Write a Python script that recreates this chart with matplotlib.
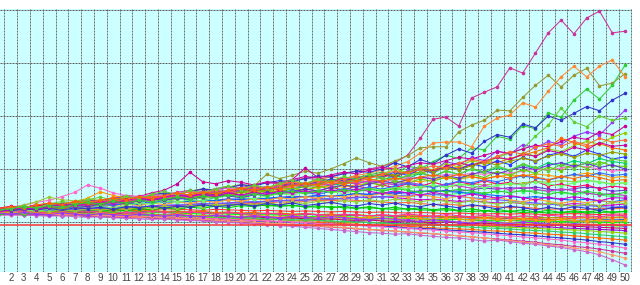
import matplotlib
matplotlib.use("Agg")
import matplotlib.pyplot as plt
import numpy as np

x_values = list(range(1, 51))
tick_labels = [str(i) for i in range(2, 51)]

s01 = [122,125,128,126,131,135,133,138,142,140, 145,149,147,152,156,160,158,163,167,165,
       170,174,172,178,183,180,186,192,196,200, 205,212,226,258,294,298,281,334,345,355,
       391,381,419,457,481,455,485,498,457,460]
s02 = [120,123,121,126,130,128,134,139,136,141, 146,143,150,154,152,158,163,160,166,171,
       168,190,182,188,196,192,200,210,221,212, 205,215,225,240,242,242,270,283,292,311,
       310,335,358,377,355,377,390,357,362,380]
s03 = [117,120,124,122,127,131,129,133,137,135, 139,143,141,146,150,148,153,157,155,160,
       164,162,168,172,170,176,181,178,184,189, 194,188,206,200,214,226,220,240,236,262,
       256,282,276,306,298,330,351,332,358,396]
s04 = [118,121,124,122,127,131,129,134,138,136, 140,144,141,147,151,149,155,159,157,163,
       167,165,171,176,173,180,185,182,188,192, 198,205,214,230,249,251,251,242,281,296,
       302,325,317,347,374,394,374,394,406,374]
s05 = [124,127,125,130,134,132,137,141,139,144, 148,146,151,155,153,158,162,160,165,170,
       168,174,178,176,182,187,185,191,196,194, 200,212,204,218,210,226,238,230,252,265,
       260,285,278,300,292,305,318,310,330,343]
s06 = [121,119,123,127,125,129,133,131,135,139, 137,142,146,144,148,153,151,156,160,158,
       163,167,165,170,174,172,178,183,181,186, 191,183,197,205,196,214,208,222,216,234,
       228,246,240,252,246,262,270,264,288,311]
s07 = [116,119,118,122,120,125,128,126,131,134, 132,137,140,138,143,146,144,149,153,151,
       156,159,157,163,167,165,170,174,172,178, 183,181,187,192,198,203,200,208,214,222,
       230,238,262,283,315,289,280,300,292,296]
s08 = [125,128,126,131,135,133,138,142,140,146, 150,148,155,160,172,194,176,172,178,175,
       170,176,174,180,186,183,189,194,191,198, 203,200,206,212,209,216,222,219,226,233,
       230,238,245,242,252,260,256,270,265,281]
s09 = [118,121,120,124,128,126,131,135,133,138, 142,140,145,149,147,152,156,154,159,163,
       161,166,170,168,173,178,176,182,186,184, 190,200,193,205,198,210,204,216,210,222,
       217,230,225,238,233,244,252,247,260,268]
s10 = [120,123,127,125,130,128,133,137,135,140, 138,143,147,145,150,148,153,157,155,160,
       164,162,167,171,169,174,178,176,181,186, 184,190,195,193,199,204,202,208,214,212,
       220,226,233,240,258,250,242,248,240,236]
s11 = [123,121,125,129,127,132,136,134,138,142, 140,145,149,147,152,150,155,159,157,162,
       166,164,169,173,171,176,180,178,183,187, 185,194,188,200,192,206,199,210,204,216,
       208,222,214,226,232,224,236,228,219,223]
s12 = [119,122,126,124,129,127,131,135,133,137, 141,139,143,147,145,149,153,151,155,159,
       157,161,165,163,167,171,169,173,177,175, 179,188,182,192,186,196,190,200,193,203,
       197,208,201,212,206,216,210,220,214,211]
s13 = [124,128,132,137,141,148,156,170,164,155, 150,147,152,149,154,158,155,160,164,161,
       159,163,167,165,169,167,172,176,174,178, 176,180,184,182,186,190,188,192,190,194,
       192,196,200,198,202,206,204,200,196,198]
s14 = [117,120,123,127,131,134,138,145,157,150, 146,143,147,145,149,152,150,154,157,155,
       158,156,160,163,161,165,168,166,170,173, 171,175,178,176,180,183,181,185,182,186,
       189,187,191,188,185,189,192,190,184,186]
s15 = [121,126,132,138,147,142,140,143,141,139, 142,140,143,146,144,147,145,148,151,149,
       152,150,153,156,154,157,160,158,161,163, 161,164,167,165,168,166,169,172,170,173,
       171,174,177,175,178,176,179,176,172,174]
s16 = [119,122,120,124,127,125,128,131,129,132, 135,133,136,139,137,140,138,141,144,142,
       145,143,146,149,147,150,148,151,154,152, 155,153,156,159,157,160,158,161,164,162,
       165,163,166,162,160,163,166,164,158,160]
s17 = [114,117,116,119,122,120,123,126,124,127, 129,127,130,132,130,133,135,133,136,138,
       136,139,141,139,142,144,142,145,147,145, 148,150,148,151,153,151,154,156,154,157,
       159,157,160,158,155,152,154,151,148,150]
s18 = [122,124,123,126,128,127,129,131,130,133, 135,134,136,138,137,139,141,140,142,144,
       143,145,147,146,148,150,149,151,153,152, 154,156,155,157,159,158,156,154,152,150,
       148,146,148,145,143,141,143,140,138,142]
s19 = [118,120,119,121,123,122,124,126,125,127, 129,128,130,132,131,133,135,134,136,138,
       137,139,141,140,142,144,143,145,147,146, 148,146,144,142,143,141,139,140,138,136,
       137,135,133,134,132,135,133,131,132,134]
s20 = [115,117,116,118,120,119,121,123,122,124, 126,125,127,129,128,130,132,131,133,135,
       134,136,138,137,139,141,140,142,141,139, 138,136,137,135,133,134,132,130,131,129,
       127,128,126,124,125,123,124,126,125,126]
s21 = [120,121,120,122,123,122,124,125,124,126, 127,126,128,129,128,130,131,130,132,133,
       132,131,130,131,129,128,129,127,126,127, 125,124,125,123,122,123,121,120,121,119,
       120,118,119,117,118,119,117,118,119,120]
s22 = [123,122,124,123,122,124,123,125,124,123, 125,124,123,125,124,123,122,124,123,122,
       121,122,121,120,121,120,119,120,119,118, 119,118,117,118,117,116,117,116,115,116,
       115,116,115,114,115,116,115,114,115,115]
s23 = [117,118,117,119,118,117,119,118,120,119, 118,120,119,118,117,118,117,116,117,116,
       115,116,115,114,115,114,113,114,113,112, 113,112,111,112,111,110,111,110,109,110,
       109,110,109,108,109,110,109,110,109,110]
s24 = [125,124,126,125,124,123,124,122,123,121, 122,120,121,119,120,118,119,117,118,116,
       117,115,116,114,115,113,114,112,113,111, 112,110,111,109,110,108,109,107,108,106,
       107,105,106,104,105,103,104,105,104,105]
s25 = [113,114,113,115,114,113,115,114,113,114, 113,112,113,112,111,112,111,110,111,110,
       109,110,109,108,109,108,107,108,107,106, 107,106,105,106,105,104,105,104,103,104,
       103,102,103,102,101,102,101,100,101,100]
s26 = [119,118,119,117,118,116,117,115,116,114, 115,113,114,112,113,111,112,110,111,109,
       110,108,109,107,108,106,107,105,106,104, 104,103,103,102,101,101,100,100,99,99,
       98,98,97,97,97,96,96,96,96,96]
s27 = [116,117,116,115,116,115,114,115,114,113, 114,113,112,113,112,111,110,111,110,109,
       108,109,108,107,106,107,106,105,104,103, 104,103,102,101,100,101,99,98,99,97,
       96,97,95,96,94,95,93,94,92,92]
s28 = [121,120,121,119,120,118,117,118,116,117, 115,116,114,113,114,112,111,112,110,109,
       110,108,107,108,106,105,106,104,103,104, 102,101,102,100,99,100,98,97,98,96,
       95,96,94,93,94,92,91,90,89,88]
s29 = [114,115,114,113,114,112,113,111,112,110, 111,109,110,108,109,107,108,106,107,105,
       106,104,105,103,102,103,101,100,101,99, 98,99,97,96,97,95,94,95,93,92,
       93,91,90,91,89,88,87,86,85,84]
s30 = [118,117,118,116,117,115,116,114,115,113, 112,113,111,110,111,109,108,109,107,106,
       105,106,104,103,102,103,101,100,99,100, 98,97,96,97,95,94,93,94,92,91,
       90,89,88,87,86,85,84,82,81,79]
s31 = [120,119,120,118,119,117,116,117,115,114, 115,113,112,113,111,110,111,109,108,107,
       108,106,105,104,105,103,102,101,100,99, 98,97,96,95,94,93,92,90,89,88,
       87,85,84,83,81,80,78,76,74,72]
s32 = [117,116,117,115,114,115,113,112,113,111, 110,111,109,108,107,108,106,105,104,105,
       103,102,101,100,99,100,98,97,96,95, 94,93,92,91,89,88,87,86,84,83,
       82,80,79,77,76,74,72,70,68,66]
s33 = [115,116,114,115,113,112,113,111,110,111, 109,108,109,107,106,105,106,104,103,102,
       101,100,101,99,98,97,96,95,94,93, 92,91,89,88,87,85,84,82,81,79,
       77,76,74,72,70,68,66,63,61,58]
s34 = [119,118,117,118,116,115,116,114,113,112, 113,111,110,109,110,108,107,106,105,104,
       103,102,101,100,99,97,96,95,94,92, 91,89,88,86,85,83,81,80,78,76,
       74,72,70,68,66,63,61,58,55,51]
s35 = [116,115,116,114,113,112,113,111,110,109, 108,109,107,106,105,104,103,102,101,99,
       98,97,96,94,93,92,90,89,87,86, 84,83,81,79,78,76,74,72,70,68,
       66,64,62,59,57,54,52,49,45,41]
s36 = [118,117,116,117,115,114,113,114,112,111, 110,109,110,108,107,106,105,104,102,101,
       100,98,97,96,94,93,91,90,88,86, 85,83,81,80,78,76,74,72,70,67,
       65,62,60,57,54,51,48,44,38,32]
s37 = [114,113,114,112,111,112,110,109,110,108, 107,106,105,106,104,103,102,100,99,98,
       96,95,93,92,90,88,86,84,82,80, 79,77,78,75,73,71,70,67,64,66,
       63,60,58,55,52,48,44,38,29,19]
s38 = [121,122,121,120,121,120,119,120,119,118, 119,118,117,118,117,116,115,116,115,114,
       113,114,113,112,111,110,111,110,109,108, 107,108,107,106,105,104,105,104,103,102,
       103,102,101,102,101,100,101,100,99,100]
s39 = [124,125,124,126,125,124,125,123,124,122, 123,121,122,120,121,119,120,118,119,117,
       118,116,117,115,116,114,115,113,114,112, 113,111,112,110,111,109,110,108,109,107,
       108,106,107,105,106,107,108,107,108,108]
s40 = [117,119,121,120,122,124,123,125,127,126, 128,130,129,131,133,132,134,136,135,137,
       139,138,140,142,141,143,145,144,146,148, 147,149,151,150,152,150,148,146,144,142,
       140,138,136,134,132,130,131,129,128,130]
s41 = [126,130,127,133,129,135,138,134,140,137, 143,139,146,141,148,144,151,147,155,150,
       157,152,160,155,163,158,166,160,168,163, 170,165,172,167,175,169,176,171,178,172,
       175,170,177,168,172,166,170,163,168,165]
s42 = [120,124,129,125,131,136,132,138,134,141, 137,144,140,147,143,151,146,154,149,157,
       153,160,156,164,159,168,162,171,165,175, 169,178,172,182,176,186,180,190,184,195,
       188,199,192,204,196,210,201,214,206,205]
s43 = [118,121,125,122,127,131,128,133,137,134, 139,143,140,146,150,147,153,157,154,160,
       164,161,167,171,168,174,170,176,172,178, 174,170,175,171,167,172,168,164,169,165,
       161,166,162,158,163,159,155,151,154,150]
s44 = [122,125,121,126,130,127,131,128,133,130, 134,131,136,133,138,135,140,137,142,139,
       144,141,146,143,148,145,150,147,152,149, 154,150,147,152,148,144,149,145,141,146,
       142,138,143,139,135,140,136,141,137,140]
s45 = [119,124,121,126,124,130,127,129,134,131, 136,140,135,141,145,142,140,146,151,148,
       153,149,155,160,156,152,158,163,161,166, 162,168,173,169,165,171,177,174,180,176,
       182,187,183,179,185,190,186,193,188,190]
s46 = [115,118,123,120,125,122,127,132,129,127, 131,136,134,139,137,142,140,145,150,147,
       144,149,154,151,156,160,157,154,159,163, 160,165,162,167,170,166,172,168,164,169,
       173,170,176,172,168,174,178,175,171,175]
s47 = [121,125,122,127,132,129,135,131,137,142, 138,145,141,147,152,148,155,151,158,162,
       158,165,161,180,202,184,176,183,178,185, 190,186,194,200,196,205,212,206,215,222,
       218,228,224,235,230,241,236,250,243,245]
s48 = [117,121,126,123,128,125,131,135,132,138, 134,140,145,141,147,143,150,155,151,157,
       162,158,165,169,166,172,178,174,181,185, 191,187,194,199,195,202,198,206,212,208,
       215,220,216,224,229,222,230,226,232,228]
s49 = [123,126,130,127,133,130,136,140,137,142, 139,145,149,146,152,157,153,160,156,163,
       167,164,170,175,171,178,174,181,186,182, 190,196,192,200,206,202,211,218,214,224,
       233,228,241,248,243,252,246,258,251,255]
s50 = [126,123,128,125,130,134,131,129,134,138, 135,140,144,141,146,143,148,152,149,146,
       151,156,153,158,162,159,165,170,166,172, 177,173,180,185,181,188,183,190,196,191,
       198,204,199,207,212,205,211,203,208,200]
s51 = [114,117,115,119,117,121,118,122,120,124, 121,125,123,127,124,128,126,130,127,131,
       129,133,130,132,128,131,127,130,126,129, 125,128,124,127,123,126,122,125,121,124,
       120,123,119,122,118,121,119,122,118,120]
s52 = [120,118,121,119,117,120,118,121,119,116, 119,117,120,118,116,119,117,115,118,116,
       114,117,115,113,116,114,112,115,113,111, 114,112,115,113,111,114,112,110,113,111,
       109,112,110,113,111,109,112,110,113,112]
s53 = [116,119,117,121,119,123,121,125,122,126, 124,128,126,130,127,131,129,133,130,134,
       132,136,133,137,135,139,136,140,138,142, 139,143,141,138,142,139,136,140,137,134,
       138,135,132,136,133,130,134,131,137,135]
s54 = [124,121,125,123,126,122,127,125,128,124, 129,127,131,126,130,128,133,129,131,134,
       130,135,132,136,131,134,137,133,130,135, 132,136,131,129,134,130,127,133,129,125,
       130,127,123,128,124,129,126,122,127,128]
s55 = [118,116,119,117,115,118,116,114,117,115, 113,116,114,112,115,113,111,114,112,110,
       113,111,109,112,110,108,111,109,107,110, 108,106,109,107,105,108,106,104,107,105,
       103,106,104,102,105,103,101,104,102,103]
s56 = [119,123,127,124,129,133,130,135,139,136, 141,145,142,147,151,148,153,149,155,151,
       156,152,158,154,159,155,161,157,162,158, 154,159,155,151,156,152,148,153,149,145,
       150,146,142,147,143,148,144,140,146,145]
s57 = [121,126,131,127,134,139,135,142,147,141, 149,144,152,158,151,160,155,163,168,161,
       170,164,173,179,172,182,176,186,180,190, 184,178,188,194,186,197,190,201,195,206,
       198,210,203,197,208,201,213,207,219,215]
s58 = [125,129,126,132,136,133,139,135,141,146, 142,148,144,150,155,151,157,153,160,164,
       160,166,162,168,173,169,175,171,177,181, 177,183,179,185,189,184,190,186,181,187,
       183,189,185,180,186,182,188,184,178,180]
s59 = [117,115,118,116,114,117,115,113,116,114, 112,115,113,111,114,112,110,113,111,109,
       112,110,108,111,109,107,110,108,106,104, 107,105,103,101,104,102,100,98,101,99,
       97,100,98,96,94,97,95,93,95,92]
s60 = [122,125,129,126,131,128,133,137,134,139, 136,141,138,143,147,144,149,146,151,148,
       153,150,155,158,154,159,156,161,157,162, 158,163,160,156,161,157,162,158,154,159,
       155,160,156,152,157,153,158,154,151,156]

series = [s01, s02, s03, s04, s05, s06, s07, s08, s09, s10,
          s11, s12, s13, s14, s15, s16, s17, s18, s19, s20,
          s21, s22, s23, s24, s25, s26, s27, s28, s29, s30,
          s31, s32, s33, s34, s35, s36, s37, s38, s39, s40,
          s41, s42, s43, s44, s45, s46, s47, s48, s49, s50,
          s51, s52, s53, s54, s55, s56, s57, s58, s59, s60]

colors = ['#cc3399', '#999933', '#33cc33', '#ff8833', '#3333cc', '#9933ff', '#66cc33', '#cc0099',
          '#99cc00', '#ff6600', '#3333ff', '#00cc66', '#ff66cc', '#ff9900', '#99cc33', '#6633cc',
          '#33ff66', '#0066ff', '#cc00cc', '#ff6633', '#00cc00', '#ff3333', '#999900', '#3366cc',
          '#ff3399', '#ff9933', '#66ff33', '#cc0066', '#9900cc', '#99cc00', '#33cc66', '#ff6600',
          '#3333cc', '#ff66cc', '#cc3399', '#ff9966', '#cc66cc', '#00ff00', '#ff6600', '#6666ff',
          '#ff0066', '#66cc00', '#cc33cc', '#ff9933', '#3366ff', '#66ff66', '#cc0099', '#999900',
          '#ff6633', '#6633cc', '#00cc00', '#ff3399', '#99cc33', '#3333cc', '#ff9900', '#cc00cc',
          '#66cc33', '#ff6600', '#9933ff', '#33cc33']

reference_level = 94.3
grid_levels = [100, 200, 300, 400, 500]

fig = plt.figure(figsize=(6.4, 2.85), dpi=100)
ax = fig.add_axes([0, 13/285, 632/640, 263/285])
ax.set_facecolor('#ccffff')

ax.set_xlim(1.16, 50.54)
ax.set_ylim(5.7, 502)

px = 0.72
for xv in np.arange(1.5, 51, 1.0):
    ax.axvline(xv, color='#707070', lw=px, ls=(0, (2, 1)), zorder=1)
for gy in grid_levels:
    ax.axhline(gy, color='#606060', lw=px, ls=(0, (2, 1)), zorder=1)

for s, c in zip(series, colors):
    ax.plot(x_values, s, color=c, lw=0.75, marker='o', ms=1.6, mec=c, mfc=c, zorder=2)

ax.axhline(reference_level, color='#ff3333', lw=1.1, zorder=4)

for sp in ax.spines.values():
    sp.set_visible(False)
ax.set_yticks([])
ax.set_xticks(range(2, 51))
ax.set_xticklabels(tick_labels, fontsize=7, color='#444444', family='Liberation Sans')
ax.tick_params(axis='x', length=0, pad=1)

fig.savefig('out.png', dpi=100, facecolor='white')
